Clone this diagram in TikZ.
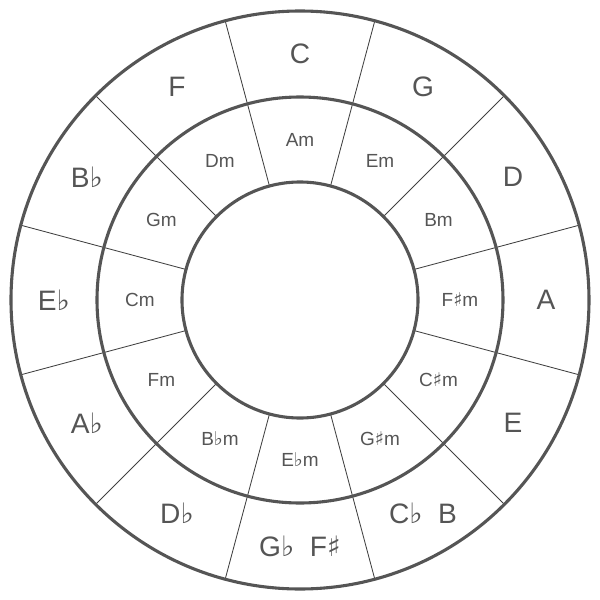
\documentclass[tikz,border=0pt]{standalone}
\usepackage{fontspec}
\setmainfont{Liberation Sans}
\newfontfamily\symfont{DejaVu Sans}
\newcommand{\flt}{{\symfont ♭}}
\newcommand{\shrp}{{\symfont ♯}}
\definecolor{ring}{HTML}{555555}
\definecolor{txt}{HTML}{555555}
\definecolor{divline}{HTML}{404040}
\begin{document}
\begin{tikzpicture}[x=0.025cm,y=0.025cm,
  ringline/.style={draw=ring,line width=2.2pt},
  divider/.style={draw=divline,line width=0.6pt},
  major/.style={text=txt,font=\fontsize{20}{22}\selectfont,inner sep=0pt},
  minor/.style={text=txt,font=\fontsize{13.5}{15}\selectfont,inner sep=0pt}]
\useasboundingbox (-300,-300) rectangle (300,300);
\foreach \k in {0,...,11}{
  \draw[divider] ({75+30*\k}:118) -- ({75+30*\k}:290);
}
\draw[ringline] (0,0) circle (289);
\draw[ringline] (0,0) circle (203);
\draw[ringline] (0,0) circle (118);
\foreach \lab [count=\i from 0] in {C,G,D,A,E,C\flt\ \ B,G\flt\ \ F\shrp,D\flt,A\flt,E\flt,B\flt,F}{
  \node[major] (M\i) at ({90-30*\i}:246) {\lab};
}
\foreach \lab [count=\i from 0] in {Am,Em,Bm,F\shrp m,C\shrp m,G\shrp m,E\flt m,B\flt m,Fm,Cm,Gm,Dm}{
  \node[minor] (m\i) at ({90-30*\i}:160) {\lab};
}
\end{tikzpicture}
\end{document}
